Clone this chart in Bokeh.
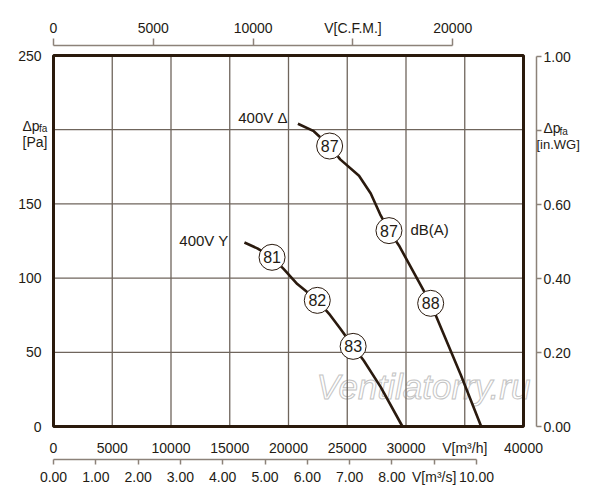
from bokeh.core.properties import value
from bokeh.embed import file_html
from bokeh.models import FixedTicker, Label, LinearAxis, PrintfTickFormatter, Range1d
from bokeh.plotting import figure
from bokeh.resources import INLINE

# fan curve 400V delta: air flow V [m3/h] vs static pressure dp_fa [Pa]
delta_flow = [20800, 22150, 23500, 24400, 26000, 27000, 27800, 28550, 29400, 32100, 34650, 36400]
delta_pres = [204, 199, 189, 180, 169, 157, 143, 132, 122, 83, 35, 0]
# fan curve 400V Y
star_flow = [16250, 17350, 18600, 19600, 20750, 22450, 23550, 24400, 25500, 26400, 27850, 29700]
star_pres = [124, 120, 114, 106, 96, 85, 75, 66, 54, 44.5, 26.5, 0]

# sound levels dB(A) along the curves
delta_db_flow = [23500, 28550, 32100]
delta_db_pres = [189, 132, 83]
delta_db = ["87", "87", "88"]
star_db_flow = [18600, 22450, 25500]
star_db_pres = [114, 85, 54]
star_db = ["81", "82", "83"]

# axis ticks
flow_ticks = [0, 5000, 10000, 15000, 20000, 25000, 30000, 35000, 40000]
pres_ticks = [0, 50, 100, 150, 200, 250]
cfm_ticks = [0, 5000, 10000, 15000, 20000]
m3s_ticks = [0, 1, 2, 3, 4, 5, 6, 7, 8, 9, 10]
inwg_ticks = [0, 0.2, 0.4, 0.6, 0.8, 1.0]

M3H_PER_CFM = 1.699
PA_PER_INWG = 249.09
X_MAX = 40000
Y_MAX = 250

TEXT = "#231b14"
FRAME = "#2a1a0c"
CURVE = "#2a1a0e"
GRID = "#6f655c"
AXIS = "#8c8279"
FONT = "Liberation Sans"

W, H = 590, 490


# canvas pixel -> data (chart box spans x 53..523, y 55..426)
def fx(px):
    return (px - 53) / (523 - 53) * X_MAX


def fy(py):
    return (426 - py) / (426 - 55) * Y_MAX


# the frame covers the whole canvas, all axes sit at fixed locations
p = figure(
    width=W,
    height=H,
    x_range=Range1d(fx(0), fx(W)),
    y_range=Range1d(fy(H), fy(0)),
    x_axis_type=None,
    y_axis_type=None,
    output_backend="svg",
    toolbar_location=None,
    min_border=0,
)
p.outline_line_color = None
p.background_fill_color = "white"
p.border_fill_color = "white"
p.extra_x_ranges = {
    "cfm": Range1d(fx(0) / M3H_PER_CFM, fx(W) / M3H_PER_CFM),
    "m3s": Range1d(fx(0) / 3600, fx(W) / 3600),
}
p.extra_y_ranges = {"inwg": Range1d(fy(H) / PA_PER_INWG, fy(0) / PA_PER_INWG)}


def style(axis):
    axis.major_label_text_font = FONT
    axis.major_label_text_font_size = "14px"
    axis.major_label_text_color = TEXT
    axis.axis_line_color = AXIS
    axis.axis_line_width = 1.5
    axis.major_tick_line_color = AXIS
    axis.major_tick_line_width = 1.5
    axis.major_tick_in = 0
    axis.minor_tick_line_color = None
    return axis


# pressure labels on the left, next to the box
left = style(LinearAxis(ticker=FixedTicker(ticks=pres_ticks), fixed_location=0,
                        major_label_overrides={200: ""}))
left.axis_line_color = None
left.major_tick_line_color = None
left.major_label_standoff = 6
p.add_layout(left, "left")

# m3/h labels right under the box
bottom = style(LinearAxis(ticker=FixedTicker(ticks=flow_ticks), fixed_location=0,
                          major_label_overrides={35000: "V[m³/h]"}))
bottom.axis_line_color = None
bottom.major_tick_line_color = None
bottom.major_label_standoff = 7
p.add_layout(bottom, "below")

m3s = style(
    LinearAxis(
        x_range_name="m3s",
        fixed_location=fy(459),
        ticker=FixedTicker(ticks=m3s_ticks),
        bounds=(0, 10),
        formatter=PrintfTickFormatter(format="%.2f"),
        major_label_overrides={9: "V[m³/s]"},
    )
)
m3s.major_tick_out = 5
m3s.major_label_standoff = 4
p.add_layout(m3s, "below")

cfm = style(
    LinearAxis(
        x_range_name="cfm",
        fixed_location=fy(45),
        ticker=FixedTicker(ticks=cfm_ticks),
        bounds=(0, 20000),
        major_label_overrides={15000: "V[C.F.M.]"},
    )
)
cfm.major_tick_out = 7
cfm.major_label_standoff = 3
p.add_layout(cfm, "above")

inwg = style(
    LinearAxis(
        y_range_name="inwg",
        fixed_location=fx(536),
        ticker=FixedTicker(ticks=inwg_ticks),
        bounds=(0, 1),
        formatter=PrintfTickFormatter(format="%.2f"),
        major_label_overrides={0.8: ""},
    )
)
inwg.major_tick_out = 5
inwg.major_label_standoff = 2
p.add_layout(inwg, "right")

# grid inside the box
vx = flow_ticks[1:-1]
p.segment(x0=vx, y0=[0] * len(vx), x1=vx, y1=[Y_MAX] * len(vx), line_color=GRID, line_width=1.3)
hy = pres_ticks[1:-1]
p.segment(x0=[0] * len(hy), y0=hy, x1=[X_MAX] * len(hy), y1=hy, line_color=GRID, line_width=1.3)

# watermark
p.add_layout(
    Label(
        x=fx(316), y=fy(386), text="Ventilatorry.ru",
        text_font=FONT, text_font_size="35px", text_font_style="italic",
        text_color="white", text_outline_color="#c4c4c4",
        text_baseline="middle", level="underlay",
    )
)

# box
p.quad(left=[0], right=[X_MAX], bottom=[0], top=[Y_MAX], fill_color=None,
       line_color=FRAME, line_width=3)

# curves
p.line(delta_flow, delta_pres, line_color=CURVE, line_width=2.6)
p.line(star_flow, star_pres, line_color=CURVE, line_width=2.6)

for xs, ys, labels in [(delta_db_flow, delta_db_pres, delta_db), (star_db_flow, star_db_pres, star_db)]:
    p.scatter(xs, ys, size=26, fill_color="white", line_color=CURVE, line_width=1)
    p.text(xs, ys, text=labels, text_align="center", text_baseline="middle",
           text_font=value(FONT), text_font_size="16px", text_color=TEXT)


def label(x, y, text, size="15px", align="left", baseline="middle"):
    p.add_layout(
        Label(x=x, y=y, text=text, text_font=FONT, text_font_size=size, text_color=TEXT,
              text_align=align, text_baseline=baseline)
    )


label(fx(287), fy(117), "400V Δ", align="right")
label(fx(228), fy(240), "400V Y", align="right")
label(fx(410), fy(229), "dB(A)")

# axis titles at the 200 Pa / 0.80 in.WG tick
label(fx(22), fy(125), "Δp", size="14px", baseline="alphabetic")
label(fx(38.5), fy(128.3), "fa", size="10px", baseline="alphabetic")
label(fx(22), fy(141.5), "[Pa]", size="14px", baseline="alphabetic")
label(fx(543), fy(127.7), "Δp", size="14px", baseline="alphabetic")
label(fx(559), fy(130.5), "fa", size="10px", baseline="alphabetic")
label(fx(536), fy(144), "[in.WG]", size="13px", baseline="alphabetic")

open("out.html", "w").write(file_html(p, INLINE))
